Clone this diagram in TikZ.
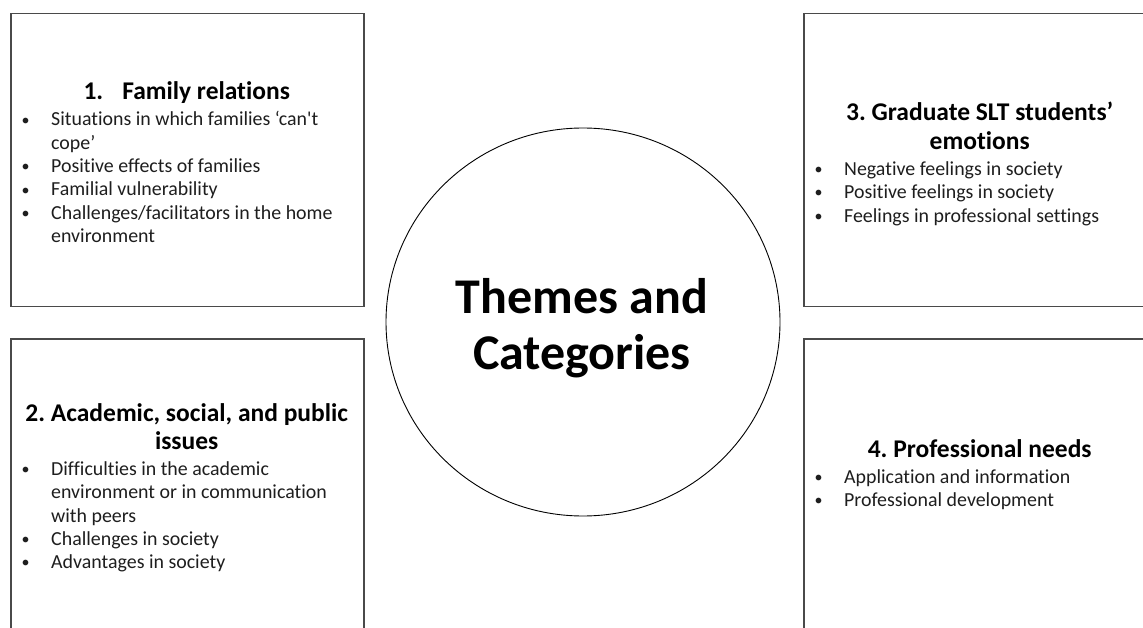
\documentclass[tikz,border=0pt]{standalone}
\usepackage{fontspec}
\usetikzlibrary{shapes.geometric}
\setmainfont{Carlito}[Ligatures={TeX,NoCommon}]
\definecolor{boxgray}{HTML}{4A4A4A}
\definecolor{txt}{HTML}{1E1E1E}
\newcommand\bodyfont{\fontsize{19.9}{23.3}\selectfont\color{txt}}
\newcommand\headfont{\fontsize{25.5}{28.5}\selectfont\bfseries\color{black}\frenchspacing}
\newcommand\bitem[1]{\par\hangindent=30pt\hangafter=1\noindent\hbox to 30pt{\hspace{0.5pt}\raisebox{0.8pt}{\fontsize{16}{16}\selectfont\textbullet}\hfil}#1}
\newcommand\bhead[1]{{\centering\leavevmode\headfont #1\par}\vspace{2.7pt}\bodyfont}
\newenvironment{boxbody}{\begin{minipage}[t]{331pt}\setlength\parindent{0pt}\setlength\parfillskip{0pt plus 1fil}}{\par\end{minipage}}
\begin{document}
\begin{tikzpicture}[x=1pt,y=-1pt,
  themebox/.style={draw=boxgray,line width=1.5pt,minimum width=353pt,anchor=north west,inner sep=0pt},
  boxtext/.style={inner sep=0pt,anchor=base west}]
\clip (0,0) rectangle (1143,628);
\fill[white] (0,0) rectangle (1143,628);
% boxes
\node[themebox,minimum height=293pt] (b1) at (10,13) {};
\node[themebox,minimum height=300pt] (b2) at (10,338) {};
\node[themebox,minimum height=293pt] (b3) at (803,13) {};
\node[themebox,minimum height=300pt] (b4) at (803,338) {};
% circle
\node[draw=black,line width=0.9pt,ellipse,minimum width=394pt,minimum height=388pt,inner sep=0pt] (c) at (583,322) {};
\node[font=\fontsize{50}{56}\selectfont\bfseries,align=center,anchor=base,inner sep=0pt] (ct) at (582,369) {Themes and\\Categories};
% box texts
\node[boxtext] (t1) at (21,100) {\begin{boxbody}\bhead{1.\hspace{19pt}Family relations}%
\bitem{Situations in which families ‘can\textquotesingle t\newline cope’}%
\bitem{Positive effects of families}%
\bitem{Familial vulnerability}%
\bitem{Challenges/facilitators in the home\newline environment}\end{boxbody}};
\node[boxtext] (t2) at (21,421) {\begin{boxbody}\bhead{2. Academic, social, and public\\issues}%
\bitem{Difficulties in the academic\newline environment or in communication\newline with peers}%
\bitem{Challenges in society}%
\bitem{Advantages in society}\end{boxbody}};
\node[boxtext] (t3) at (814,121) {\begin{boxbody}\bhead{3. Graduate SLT students’\\emotions}%
\bitem{Negative feelings in society}%
\bitem{Positive feelings in society}%
\bitem{Feelings in professional settings}\end{boxbody}};
\node[boxtext] (t4) at (814,457) {\begin{boxbody}\bhead{4. Professional needs}%
\bitem{Application and information}%
\bitem{Professional development}\end{boxbody}};
\end{tikzpicture}
\end{document}
